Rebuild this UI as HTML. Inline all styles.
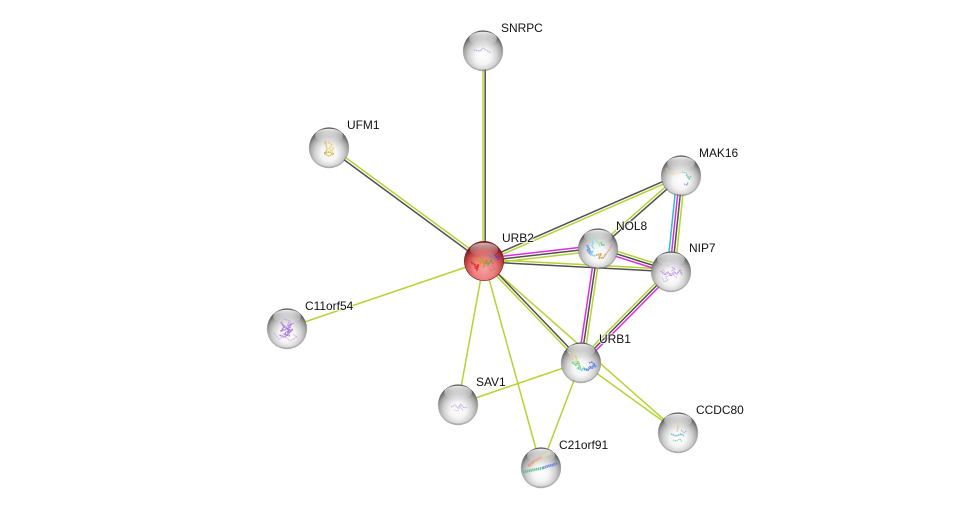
<!DOCTYPE html>
<html><head><meta charset="utf-8"><style>
html,body{margin:0;padding:0;background:#fff;width:975px;height:512px;overflow:hidden}
svg{display:block}
text{font-family:"Liberation Sans",sans-serif;font-size:11.95px;fill:#111;paint-order:stroke;stroke:rgba(255,255,255,.7);stroke-width:2px}
.y{stroke:#b5d334;stroke-width:1.5;fill:none}.d{stroke:#505050;stroke-width:1.5;fill:none}.m{stroke:#dc2edc;stroke-width:1.5;fill:none}.c{stroke:#32b8d8;stroke-width:1.5;fill:none}
.s polyline{fill:none;stroke-linecap:butt;stroke-linejoin:round;stroke-dasharray:1.4 .5;opacity:.85}
</style></head><body>
<svg width="975" height="512" viewBox="0 0 975 512" xmlns="http://www.w3.org/2000/svg">
<defs>
<radialGradient id="g" cx="50%" cy="66%" r="60%"><stop offset="0" stop-color="#fff"/><stop offset=".35" stop-color="#f4f4f4"/><stop offset=".62" stop-color="#cfcfcf"/><stop offset=".82" stop-color="#a2a2a2"/><stop offset=".95" stop-color="#6e6e6e"/><stop offset="1" stop-color="#5c5c5c"/></radialGradient>
<radialGradient id="r" cx="50%" cy="70%" r="62%"><stop offset="0" stop-color="#f7a0a0"/><stop offset=".45" stop-color="#ee8080"/><stop offset=".75" stop-color="#c74a4a"/><stop offset="1" stop-color="#7a1c1c"/></radialGradient>
<linearGradient id="h2" x1="0" y1="0" x2="0" y2="1"><stop offset="0" stop-color="#fff" stop-opacity=".9"/><stop offset=".6" stop-color="#fff" stop-opacity=".3"/><stop offset="1" stop-color="#fff" stop-opacity="0"/></linearGradient>
<g id="base"><circle r="20.2" cy="1" fill="#777" opacity=".6"/><circle r="19.6" fill="url(#g)"/></g>
<g id="hl"><ellipse cx="0" cy="-11.5" rx="14" ry="6.8" fill="url(#h2)"/></g>
</defs>

<!-- edges -->
<line class="y" x1="483" y1="50" x2="483" y2="261"/><line class="d" x1="485.2" y1="50" x2="485.2" y2="261"/>
<line class="y" x1="329.8" y1="145.9" x2="484.8" y2="259.9"/><line class="d" x1="328.2" y1="148.1" x2="483.2" y2="262.1"/>
<line class="d" x1="483.5" y1="259.8" x2="680.5" y2="173.8"/><line class="y" x1="484.5" y1="262.2" x2="681.5" y2="176.2"/>
<line class="y" x1="484" y1="261" x2="287" y2="328"/>
<line class="y" x1="484" y1="261" x2="458" y2="404"/>
<line class="y" x1="484" y1="261" x2="541" y2="467"/>
<line class="y" x1="484" y1="261" x2="678" y2="432"/>
<line class="y" x1="581" y1="362" x2="678" y2="432"/>
<line class="y" x1="581" y1="362" x2="458" y2="404"/>
<line class="y" x1="581" y1="362" x2="541" y2="467"/>
<line class="d" x1="484.9" y1="260.1" x2="581.9" y2="361.1"/><line class="y" x1="483.1" y1="261.9" x2="580.1" y2="362.9"/>
<line class="m" x1="483.7" y1="258.4" x2="597.7" y2="245.4"/><line class="d" x1="484" y1="261" x2="598" y2="248"/><line class="y" x1="484.3" y1="263.8" x2="598.3" y2="250.8"/>
<line class="y" x1="484" y1="259.3" x2="671" y2="269.3"/><line class="d" x1="484" y1="261.8" x2="671" y2="271.8"/>
<line class="y" x1="597.1" y1="247" x2="680.1" y2="174"/><line class="d" x1="598.9" y1="249" x2="681.9" y2="176"/>
<line class="y" x1="598.8" y1="245.5" x2="671.8" y2="268.5"/><line class="d" x1="598" y1="248" x2="671" y2="271"/><line class="m" x1="597.2" y1="250.5" x2="670.2" y2="273.5"/>
<line class="m" x1="595.4" y1="247.6" x2="578.4" y2="361.6"/><line class="d" x1="598" y1="248" x2="581" y2="362"/><line class="y" x1="600.6" y1="248.4" x2="583.6" y2="362.4"/>
<line class="y" x1="669.2" y1="269.2" x2="579.2" y2="360.2"/><line class="d" x1="671" y1="271" x2="581" y2="362"/><line class="m" x1="672.8" y1="272.8" x2="582.8" y2="363.8"/>
<line class="c" x1="677.1" y1="174.6" x2="667.1" y2="270.6"/><line class="m" x1="679.7" y1="174.9" x2="669.7" y2="270.9"/><line class="d" x1="682.3" y1="175.1" x2="672.3" y2="271.1"/><line class="y" x1="684.9" y1="175.4" x2="674.9" y2="271.4"/>

<!-- nodes -->
<g transform="translate(483,50)" class="s"><use href="#base"/><polyline points="-9,0 -3,1 0,-2 3,0 8,3" stroke="#a88fd8" stroke-width=".9"/><use href="#hl"/></g>

<g transform="translate(329,147)" class="s"><use href="#base"/><polyline points="-4,-6 -2,2 -4,7 0,9 4,7" stroke="#d8b850" stroke-width="1.7"/><polyline points="-1,-5 3,-2 0,2 3,4 5,0" stroke="#e8d060" stroke-width="1.7"/><polyline points="-5,6 0,5 5,7" stroke="#c8a848" stroke-width="1.7"/><use href="#hl"/></g>

<g transform="translate(681,175)" class="s"><use href="#base"/><polyline points="-15,-7 -11,-1 -6,-1 -2,-2 1,-3" stroke="#e8d080" stroke-width=".8"/><polyline points="1,-3 5,-2 8,2 9,5" stroke="#70d0a0" stroke-width="1"/><polyline points="5,0 8,4 10,1" stroke="#50c090" stroke-width="1"/><polyline points="3,9 6,10 7,7" stroke="#6080e0" stroke-width="1"/><use href="#hl"/></g>

<g transform="translate(484,261)" class="s"><circle r="20" fill="#7a1c1c"/><circle r="19.4" fill="url(#r)"/>
<polyline points="-13,1 -9,4 -8,8 -6,4 -7,10" stroke="#e02020" stroke-width="2"/><polyline points="-11,-3 -7,-1 -3,1 -5,5" stroke="#e08a20" stroke-width="1.8"/><polyline points="-5,-4 -1,-1 0,3 3,-1 -1,7" stroke="#a8a020" stroke-width="1.8"/><polyline points="2,0 4,4 7,-1 9,3" stroke="#60a040" stroke-width="1.6"/><polyline points="5,-8 7,-3 9,-6 11,-1" stroke="#7090a0" stroke-width="1.6"/><polyline points="11,-6 13,-3 15,-6 14,-1" stroke="#7030c0" stroke-width="1.8"/><polyline points="8,4 11,8 7,10 5,6" stroke="#a07070" stroke-width=".7"/>
<ellipse cx="0" cy="-11.5" rx="14" ry="6.8" fill="url(#h2)" opacity=".75"/></g>

<g transform="translate(598,248)" class="s"><use href="#base"/><polyline points="-7,-12 -5,-6 -6,-2 -4,1" stroke="#60e0d0" stroke-width="1.4"/><polyline points="-3,-9 1,-5 2,-1" stroke="#70e0b0" stroke-width="1.2"/><polyline points="3,-6 4,-3 7,-3" stroke="#60c060" stroke-width="1.6"/><polyline points="-11,-3 -9,1 -11,3 -7,3 -9,6" stroke="#5090e0" stroke-width="2.4"/><polyline points="-5,3 -7,7 -2,8" stroke="#60c8e0" stroke-width="1.6"/><polyline points="-2,7 3,6 1,10 5,10 8,6" stroke="#c8a058" stroke-width="2"/><polyline points="8,6 12,1 14,-4" stroke="#e07070" stroke-width=".9"/><use href="#hl"/></g>

<g transform="translate(671,271)" class="s"><use href="#base"/><polyline points="-10,0 -6,4 -3,1 0,5 3,1 6,3 9,-1 11,4" stroke="#b48ae0" stroke-width="1.5"/><polyline points="-4,-5 0,-9 4,-7 7,-11" stroke="#d0b8f0" stroke-width="1"/><polyline points="-9,6 -7,11 -3,9 -6,6" stroke="#c0b0d8" stroke-width="1"/><polyline points="1,-4 4,-2 0,0" stroke="#b48ae0" stroke-width="1"/><polyline points="-8,-2 -4,6 1,2 6,7" stroke="#c8b0e8" stroke-width="1"/><use href="#hl"/></g>

<g transform="translate(287,328)" class="s"><use href="#base"/><polyline points="-6,-6 -3,-1 -6,3 0,1 4,-4 1,5 6,1 -2,9 -8,7" stroke="#a070d8" stroke-width="1.7"/><polyline points="-3,-9 3,-7 0,-2 7,-5" stroke="#b08ae0" stroke-width="1.2"/><polyline points="-13,5 -8,11 -2,8 3,13 10,9 6,6" stroke="#c8aee8" stroke-width="1"/><polyline points="-4,-3 2,2 -3,6 3,8" stroke="#9a68d4" stroke-width="1.5"/><use href="#hl"/></g>

<g transform="translate(581,362)" class="s"><use href="#base"/><polyline points="-12,-10 -9,-5 -11,-2 -7,-3" stroke="#e8c8a0" stroke-width="1.6"/><polyline points="-8,-9 -4,-3 -6,1" stroke="#d8d070" stroke-width="1.8"/><polyline points="-9,0 -5,3 -3,0 -1,5 -4,7" stroke="#70d070" stroke-width="2.2"/><polyline points="-3,6 1,8 3,5" stroke="#50d0b8" stroke-width="2"/><polyline points="3,7 7,8 9,5 11,6 13,3 15,5" stroke="#5080e0" stroke-width="2.4"/><polyline points="8,1 11,0 14,3" stroke="#5070d8" stroke-width="1.4"/><use href="#hl"/></g>

<g transform="translate(458,404)" class="s"><use href="#base"/><polyline points="-7,3 -3,1 0,4 3,0 6,4 9,3" stroke="#b8a0e0" stroke-width="1"/><polyline points="-4,6 0,7 2,2 5,7" stroke="#c8b8e8" stroke-width="1"/><use href="#hl"/></g>

<g transform="translate(678,432)" class="s"><use href="#base"/><polyline points="-1,-9 0,-4 -1,0" stroke="#e8c070" stroke-width="1.4"/><polyline points="-7,2 -2,4 3,2 6,4" stroke="#60b8c0" stroke-width="1.6"/><polyline points="3,-2 6,1 8,-1" stroke="#70b0d0" stroke-width="1"/><polyline points="-5,8 -2,9 2,7 4,10" stroke="#70d090" stroke-width="1"/><use href="#hl"/></g>

<g transform="translate(541,467)" class="s"><use href="#base"/><polyline points="-13,-1 -10,-3 -7,-6 -3,-8 1,-10" stroke="#e89060" stroke-width="2.8"/><polyline points="1,-10 5,-12 9,-14" stroke="#c8d860" stroke-width="2.6"/><polyline points="-18,5 -13,4 -8,3 -3,2 2,1" stroke="#58c090" stroke-width="2.8"/><polyline points="2,1 7,-1 12,-2 16,-4" stroke="#5a80e0" stroke-width="2.8"/><use href="#hl"/></g>

<!-- labels -->
<text x="501" y="32">SNRPC</text>
<text x="347" y="129">UFM1</text>
<text x="699" y="157">MAK16</text>
<text x="502" y="242">URB2</text>
<text x="616" y="230">NOL8</text>
<text x="689" y="252">NIP7</text>
<text x="305" y="310">C11orf54</text>
<text x="599" y="343">URB1</text>
<text x="476" y="386">SAV1</text>
<text x="696" y="414">CCDC80</text>
<text x="559" y="449">C21orf91</text>
</svg>
</body></html>
